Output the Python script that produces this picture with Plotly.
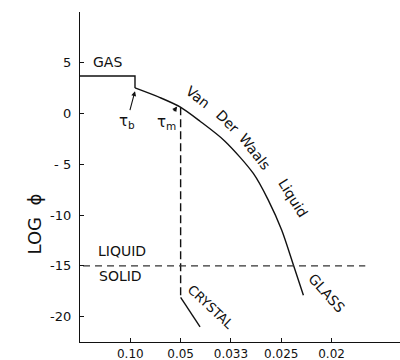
import plotly.graph_objects as go

# Horizontal axis is 1/tau; ticks are labelled with tau itself.
inv_tau_ticks = [10, 20, 30, 40, 50]
tau_tick_labels = ["0.10", "0.05", "0.033", "0.025", "0.02"]
log_phi_ticks = [5, 0, -5, -10, -15, -20]
log_phi_tick_labels = ["5", "0", "- 5", "-10", "-15", "-20"]

# Gas branch and its step at tau_b
gas_inv_tau = [0.0, 10.93, 10.93]
gas_log_phi = [3.7, 3.7, 2.52]

# Van der Waals liquid branch, continuing into the glass
liquid_inv_tau = [10.93, 15.9, 19.88, 23.86, 28.8, 34.45, 37.4, 40.1, 42.4, 44.4]
liquid_log_phi = [2.52, 1.57, 0.65, -0.76, -2.72, -5.9, -8.5, -11.5, -14.9, -17.9]

# Crystallisation at tau_m and the crystal branch
melt_inv_tau = [20.0, 20.0]
melt_log_phi = [0.63, -18.1]
crystal_inv_tau = [20.0, 23.86]
crystal_log_phi = [-18.1, -21.0]

# Liquid / solid boundary
boundary_inv_tau = [0.6, 56.7]
boundary_log_phi = [-15.0, -15.0]

FONT = "DejaVu Sans"
INK = "#111111"

fig = go.Figure()
line = dict(color=INK, width=1.4)
fig.add_trace(go.Scatter(x=gas_inv_tau, y=gas_log_phi, mode="lines", line=line))
fig.add_trace(go.Scatter(x=liquid_inv_tau, y=liquid_log_phi, mode="lines",
                         line=dict(color=INK, width=1.4, shape="spline", smoothing=0.8)))
fig.add_trace(go.Scatter(x=melt_inv_tau, y=melt_log_phi, mode="lines",
                         line=dict(color=INK, width=1.4, dash="8px,4px")))
fig.add_trace(go.Scatter(x=crystal_inv_tau, y=crystal_log_phi, mode="lines", line=line))
fig.add_trace(go.Scatter(x=boundary_inv_tau, y=boundary_log_phi, mode="lines",
                         line=dict(color="#333333", width=1.2, dash="7px,5px")))

def label(text, x, y, size=14, angle=0):
    fig.add_annotation(x=x, y=y, text=text, showarrow=False, textangle=angle,
                       font=dict(family=FONT, size=size, color=INK))

label("GAS", 5.47, 5.03)
label("LIQUID", 8.35, -13.54)
label("SOLID", 7.95, -16.0)
label("Van", 23.45, 1.63, 14, 38)
label("Der", 29.22, -0.74, 14, 45)
label("Waals", 34.78, -3.79, 14, 52)
label("Liquid", 42.34, -8.32, 14, 58)
label("GLASS", 49.04, -17.63, 14, 48)
label("CRYSTAL", 25.84, -19.05, 13, 43)

def arrow_label(text, head_x, head_y, text_x, text_y):
    fig.add_annotation(x=head_x, y=head_y, ax=text_x, ay=text_y, axref="x", ayref="y",
                       text=text, showarrow=True, arrowhead=2, arrowsize=0.9,
                       arrowwidth=1.1, arrowcolor=INK, standoff=0,
                       font=dict(family=FONT, size=15, color=INK))

arrow_label("τ<sub>b</sub>", 10.93, 2.2, 9.34, -0.74)
arrow_label("τ<sub>m</sub>", 19.3, 0.7, 17.1, -0.84)

fig.add_annotation(xref="paper", yref="paper", x=-0.181, y=0.358,
                   text="LOG  ϕ", showarrow=False, textangle=-90,
                   font=dict(family=FONT, size=18, color=INK))

fig.update_layout(
    width=400, height=360,
    margin=dict(l=80, r=0, t=12, b=18),
    plot_bgcolor="white", paper_bgcolor="white",
    showlegend=False,
    font=dict(family=FONT, size=12, color=INK),
)
fig.update_xaxes(range=[0, 63.6], showgrid=False, zeroline=False,
                 showline=True, linecolor=INK, linewidth=1.4,
                 tickmode="array", tickvals=inv_tau_ticks, ticktext=tau_tick_labels,
                 ticks="inside", ticklen=4, tickcolor=INK, tickwidth=1.2,
                 tickfont=dict(family=FONT, size=12, color=INK), automargin=False)
fig.update_yaxes(range=[-22.5, 10], showgrid=False, zeroline=False,
                 showline=True, linecolor=INK, linewidth=1.4,
                 tickmode="array", tickvals=log_phi_ticks, ticktext=log_phi_tick_labels,
                 ticks="inside", ticklen=4, tickcolor=INK, tickwidth=1.2,
                 ticklabelstandoff=5,
                 tickfont=dict(family=FONT, size=13, color=INK), automargin=False)

fig.write_html("out.html")
